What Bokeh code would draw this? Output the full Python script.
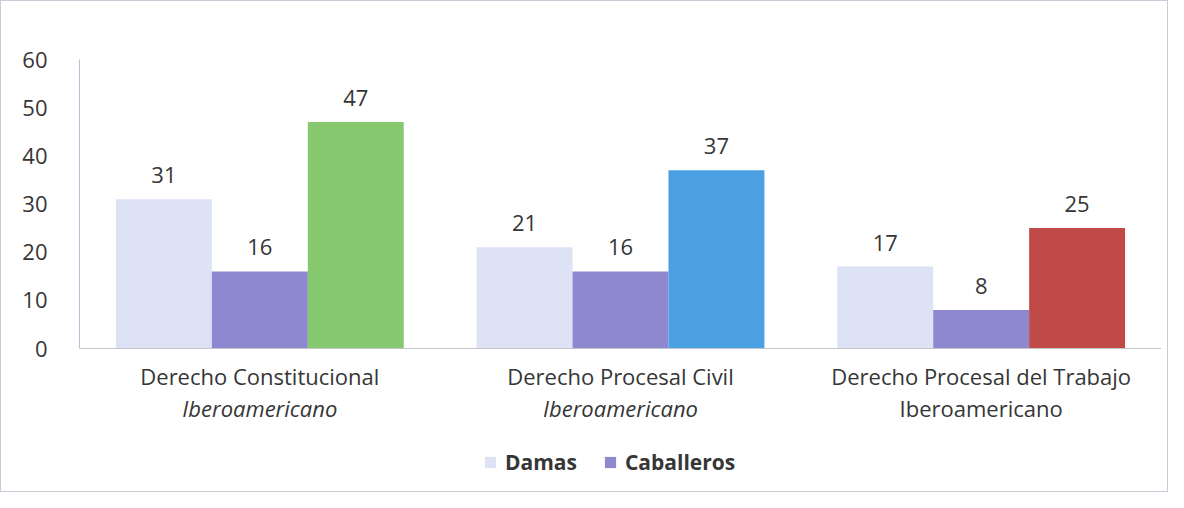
from bokeh.plotting import figure
from bokeh.models import ColumnDataSource, LabelSet, Legend, LegendItem, Range1d, FactorRange, FixedTicker, Span
from bokeh.transform import dodge
from bokeh.embed import file_html
from bokeh.resources import INLINE
from bokeh.core.properties import value

# ---- data ----
groups = ["Derecho Constitucional Iberoamericano",
          "Derecho Procesal Civil Iberoamericano",
          "Derecho Procesal del Trabajo Iberoamericano"]
label_line1 = ["Derecho Constitucional", "Derecho Procesal Civil", "Derecho Procesal del Trabajo"]
label_line2 = ["Iberoamericano", "Iberoamericano", "Iberoamericano"]
damas = [31, 21, 17]
caballeros = [16, 16, 8]
totales = [47, 37, 25]
y_ticks = [0, 10, 20, 30, 40, 50, 60]

FONT = "Open Sans"
TXT = "#363636"
W = 0.266

src = ColumnDataSource(dict(
    group=groups, damas=damas, caballeros=caballeros, totales=totales,
    damas_t=[str(v) for v in damas], cab_t=[str(v) for v in caballeros],
    tot_t=[str(v) for v in totales],
    tot_color=["#86c96f", "#4b9fe3", "#c04a47"],
    l1=label_line1, l2=label_line2,
    l2style=["italic", "italic", "normal"],
    zero=[0, 0, 0],
))

# frame extends below zero so the category labels and legend live inside it
p = figure(x_range=FactorRange(*groups), y_range=Range1d(-28.44, 60),
           width=1168, height=492, output_backend="svg", toolbar_location=None,
           min_border_left=78, min_border_right=8, min_border_top=58, min_border_bottom=8,
           styles={"border": "1px solid #c9ccd6", "box-sizing": "border-box"})

r_d = p.vbar(x=dodge("group", -W, range=p.x_range), top="damas", width=W, source=src,
             fill_color="#dde2f4", line_color=None)
r_c = p.vbar(x=dodge("group", 0, range=p.x_range), top="caballeros", width=W, source=src,
             fill_color="#8d88cf", line_color=None)
r_t = p.vbar(x=dodge("group", W, range=p.x_range), top="totales", width=W, source=src,
             fill_color="tot_color", line_color=None)

for col, txt, off in (("damas", "damas_t", -W), ("caballeros", "cab_t", 0), ("totales", "tot_t", W)):
    p.add_layout(LabelSet(x=dodge("group", off, range=p.x_range), y=col, text=txt, source=src,
                          y_offset=16, text_align="center", text_baseline="bottom",
                          text_font=value(FONT), text_font_size="22px", text_color=TXT))

# category labels (two lines, second italic for the first two)
p.add_layout(LabelSet(x="group", y="zero", text="l1", source=src, y_offset=-27,
                      text_align="center", text_baseline="middle",
                      text_font=value(FONT), text_font_size="22px", text_color=TXT))
p.add_layout(LabelSet(x="group", y="zero", text="l2", source=src, y_offset=-59,
                      text_align="center", text_baseline="middle", text_font_style="l2style",
                      text_font=value(FONT), text_font_size="22px", text_color=TXT))

# x axis line at zero
p.add_layout(Span(location=0, dimension="width", line_color="#c3c7d2", line_width=1))

p.xgrid.grid_line_color = None
p.ygrid.grid_line_color = None
p.outline_line_color = None
p.xaxis.visible = False

p.yaxis.ticker = FixedTicker(ticks=y_ticks)
p.yaxis.bounds = (0, 60)
p.yaxis.axis_line_color = "#b9c1d9"
p.yaxis.major_tick_line_color = None
p.yaxis.minor_tick_line_color = None
p.yaxis.major_label_standoff = 26
p.yaxis.major_label_text_font = FONT
p.yaxis.major_label_text_font_size = "22px"
p.yaxis.major_label_text_color = TXT

legend = Legend(items=[LegendItem(label="Damas", renderers=[r_d]),
                       LegendItem(label="Caballeros", renderers=[r_c])],
                orientation="horizontal", location=(404, 9),
                border_line_color=None, background_fill_alpha=0,
                label_text_font=FONT, label_text_font_size="21px", label_text_color=TXT,
                label_text_font_style="bold",
                glyph_width=14, glyph_height=14, spacing=26, label_standoff=8, padding=0)
p.add_layout(legend, "center")

open("out.html", "w").write(file_html(p, INLINE))
